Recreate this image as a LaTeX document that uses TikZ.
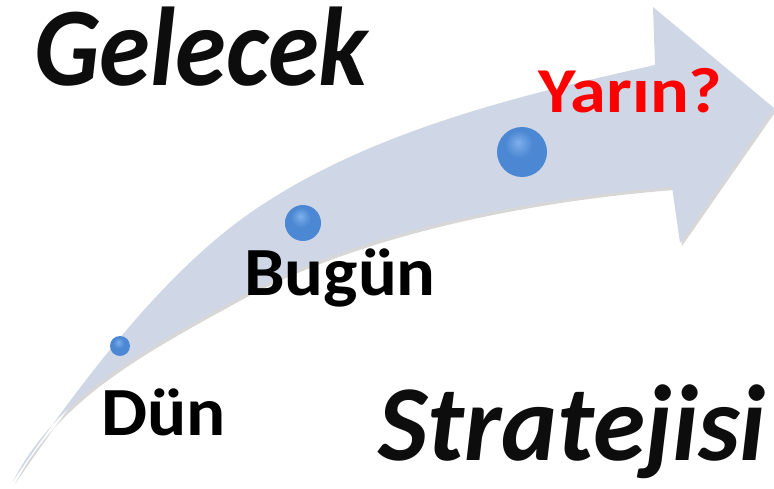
\documentclass[tikz,border=0pt]{standalone}
\usepackage{graphicx}
\usepackage{fontspec}
\setmainfont{Carlito}
\definecolor{arrowfill}{RGB}{207,215,230}
\definecolor{bla}{RGB}{125,175,235}
\definecolor{blb}{RGB}{75,135,210}
\definecolor{blc}{RGB}{55,105,180}
\definecolor{bld}{RGB}{35,75,140}
\definecolor{yarinred}{RGB}{255,0,0}
\pgfdeclareradialshading{myball}{\pgfpoint{-4bp}{10bp}}{color(0bp)=(bla); color(14bp)=(blb); color(32bp)=(blb); color(44bp)=(blc); color(50bp)=(bld); color(60bp)=(bld)}
\tikzset{
  bigtitle/.style={anchor=base west,inner sep=0pt,text=black!95},
  steplabel/.style={anchor=base west,inner sep=0pt,text=black},
  dot/.style={circle,inner sep=0pt,shading=myball}
}
\begin{document}
\begin{tikzpicture}[x=1pt,y=-1pt]
\useasboundingbox (0,0) rectangle (774,489);
\def\arrowpath{(13,481) .. controls (58,396) and (137,353) .. (247,293)
  .. controls (367,230) and (532,198) .. (672,187)
  -- (680,243) -- (774,108) -- (653,7) -- (655,65)
  .. controls (515,96) and (365,133) .. (250,213)
  .. controls (170,269) and (93,364) .. (13,481) -- cycle}
% shadow
\fill[black!35,opacity=0.45,shift={(2,3)}] \arrowpath;
% arrow
\fill[arrowfill] \arrowpath;
% balls
\node[dot,minimum size=20pt] (b1) at (120,346) {};
\node[dot,minimum size=36pt] (b2) at (303,223) {};
\node[dot,minimum size=50pt] (b3) at (522,152) {};
% texts
\node[bigtitle,font=\fontsize{112}{112}\selectfont\bfseries\itshape] (gelecek) at (34,86) {\scalebox{0.92}[1]{Gelecek}};
\node[bigtitle,font=\fontsize{108}{108}\selectfont\bfseries\itshape] (strateji) at (378,460) {\scalebox{0.98}[1]{Stratejisi}};
\node[steplabel,font=\fontsize{69}{69}\selectfont\bfseries] (dun) at (101,435) {\scalebox{1.06}[1]{Dün}};
\node[steplabel,font=\fontsize{69}{69}\selectfont\bfseries] (bugun) at (244,295) {\scalebox{1.05}[1]{Bugün}};
\node[steplabel,text=yarinred,font=\fontsize{64}{64}\selectfont\bfseries] (yarin) at (538,113) {\scalebox{1.13}[1]{Yarın?}};
\end{tikzpicture}
\end{document}
